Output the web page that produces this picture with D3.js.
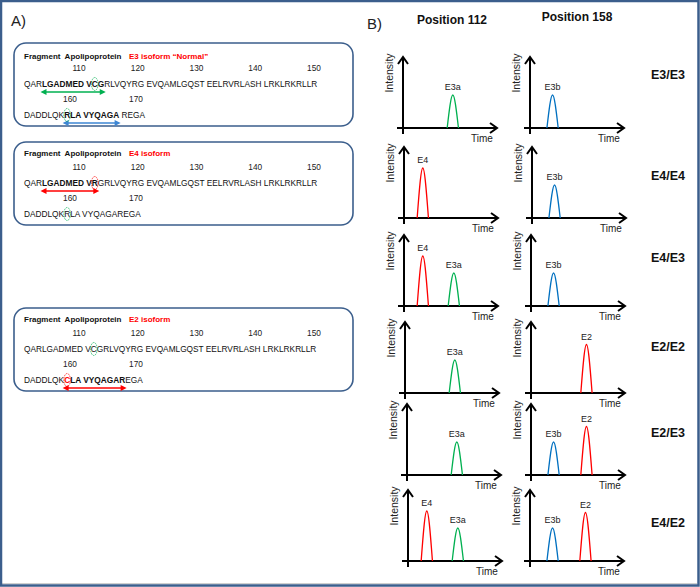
<!DOCTYPE html>
<html>
<head>
<meta charset="utf-8">
<script src="https://cdn.jsdelivr.net/npm/d3@7"></script>
<style>
  body { margin: 0; background: #fff; }
  svg { display: block; font-family: "Liberation Sans", Arial, sans-serif; }
</style>
</head>
<body>
<div id="chart"></div>
<script>
// ---- panel B data ----
const genotypes = ["E3/E3", "E4/E4", "E4/E3", "E2/E2", "E2/E3", "E4/E2"];
const columnTitles = ["Position 112", "Position 158"];
const peaksPos112 = [["E3a"], ["E4"], ["E4", "E3a"], ["E3a"], ["E3a"], ["E4", "E3a"]];
const peaksPos158 = [["E3b"], ["E3b"], ["E3b"], ["E2"], ["E3b", "E2"], ["E3b", "E2"]];
const peakNames = ["E4", "E3a", "E3b", "E2"];
const peakTimes = [20, 53, 24, 59];
const peakIntensities = [100, 66, 66, 97];
const peakColors = ["#ff0000", "#00b050", "#0070c0", "#ff0000"];

// ---- panel A data ----
const isoformNames = ["E3 isoform \u201cNormal\u201d", "E4 isoform", "E2 isoform"];
const residueTicks1 = [110, 120, 130, 140, 150];
const residueTicks2 = [160, 170];
// segment: [text, bold, textColor, ellipseColor, arrowColor]
const G = "#00b050", R = "#ff0000", B = "#3d86d3";
const seqLine1 = [
  [["QAR"], ["LGADMED V", 1, null, null, G], ["C", 1, null, G, G], ["G", 1, null, null, G], ["RLVQYRG EVQAMLGQST EELRVRLASH LRKLRKRLLR"]],
  [["QAR"], ["LGADMED V", 1, null, null, R], ["R", 1, null, R, R], ["GRLVQYRG EVQAMLGQST EELRVRLASH LRKLRKRLLR"]],
  [["QARLGADMED V"], ["C", 0, null, G], ["GRLVQYRG EVQAMLGQST EELRVRLASH LRKLRKRLLR"]]
];
const seqLine2 = [
  [["DADDLQK"], ["R", 1, null, G, B], ["LA VYQAGA", 1, null, null, B], [" REGA"]],
  [["DADDLQK"], ["R", 0, null, G], ["LA VYQAGAREGA"]],
  [["DADDLQK"], ["C", 1, R, R, R], ["LA VYQAGAR", 1, null, null, R], ["EGA"]]
];

const width = 700, height = 587;
const frameColor = "#3b5e8c";

const svg = d3.select("#chart").append("svg")
  .attr("width", width)
  .attr("height", height)
  .attr("viewBox", [0, 0, width, height]);

svg.append("rect").attr("width", width).attr("height", height).attr("fill", "#fff");

// outer frame
svg.append("line").attr("x1", 2).attr("x2", 697).attr("y1", 583.5).attr("y2", 583.5)
  .attr("stroke", "#cfcfcf").attr("stroke-width", 1);
svg.append("rect")
  .attr("x", 1).attr("y", 1).attr("width", 697.5).attr("height", 584.5)
  .attr("fill", "none").attr("stroke", frameColor).attr("stroke-width", 2.5);

// ================= Panel A =================
svg.append("text").attr("x", 11).attr("y", 26).attr("font-size", 15).attr("fill", "#222").text("A)");

const boxTops = [43, 142, 308];
const boxLeft = 14, boxRight = 353;
const seqX = 24;
const tickScale1 = d3.scaleLinear().domain([110, 150]).range([79, 314]);
const tickScale2 = d3.scaleLinear().domain([160, 170]).range([70, 136]);

function drawSequence(g, segments, baseline) {
  const text = g.append("text")
    .attr("x", seqX).attr("y", baseline)
    .attr("font-size", 8.3)
    .attr("fill", "#111")
    .style("white-space", "pre");
  let idx = 0;
  const marks = [];
  segments.forEach(s => {
    const [str, bold, color, ell, arr] = s;
    text.append("tspan")
      .attr("font-weight", bold ? "bold" : null)
      .attr("fill", color || null)
      .text(str);
    marks.push({ start: idx, end: idx + str.length - 1, ell, arr });
    idx += str.length;
  });
  const node = text.node();
  // arrow under the bold peptide
  const arrMarks = marks.filter(m => m.arr);
  if (arrMarks.length) {
    const color = arrMarks[0].arr;
    const x1 = node.getExtentOfChar(arrMarks[0].start).x - 1.5;
    const last = node.getExtentOfChar(arrMarks[arrMarks.length - 1].end);
    const x2 = last.x + last.width + 1.5;
    const y = baseline + 5;
    g.append("line").attr("x1", x1 + 4).attr("x2", x2 - 4).attr("y1", y).attr("y2", y)
      .attr("stroke", color).attr("stroke-width", 1.6);
    g.append("path").attr("d", `M${x1},${y}L${x1 + 6},${y - 3}L${x1 + 6},${y + 3}Z`).attr("fill", color);
    g.append("path").attr("d", `M${x2},${y}L${x2 - 6},${y - 3}L${x2 - 6},${y + 3}Z`).attr("fill", color);
  }
  // ellipse around the variable residue
  marks.filter(m => m.ell).forEach(m => {
    const e = node.getExtentOfChar(m.start);
    g.append("ellipse")
      .attr("cx", e.x + e.width / 2).attr("cy", baseline - 3)
      .attr("rx", 3.3).attr("ry", 6.5)
      .attr("fill", "none").attr("stroke", m.ell).attr("stroke-width", 0.7)
      .attr("stroke-dasharray", "1.6,0.8");
  });
}

isoformNames.forEach((name, i) => {
  const top = boxTops[i];
  const g = svg.append("g");
  g.append("rect")
    .attr("x", boxLeft).attr("y", top)
    .attr("width", boxRight - boxLeft).attr("height", 83)
    .attr("rx", 12).attr("ry", 12)
    .attr("fill", "#fff").attr("stroke", frameColor).attr("stroke-width", 1.6);

  const titleY = top + (i === 0 ? 16 : 13.5);
  g.append("text").attr("x", seqX).attr("y", titleY)
    .attr("font-size", 8).attr("font-weight", "bold").attr("fill", "#111")
    .style("white-space", "pre")
    .text("Fragment  Apolipoprotein");
  g.append("text").attr("x", 129).attr("y", titleY)
    .attr("font-size", 8).attr("font-weight", "bold").attr("fill", "#ff0000")
    .text(name);

  g.selectAll(".t1").data(residueTicks1).join("text")
    .attr("x", d => tickScale1(d)).attr("y", top + 28)
    .attr("text-anchor", "middle").attr("font-size", 8.3).attr("fill", "#222")
    .text(d => d);
  drawSequence(g, seqLine1[i], top + 44);

  g.selectAll(".t2").data(residueTicks2).join("text")
    .attr("x", d => tickScale2(d)).attr("y", top + 59)
    .attr("text-anchor", "middle").attr("font-size", 8.3).attr("fill", "#222")
    .text(d => d);
  drawSequence(g, seqLine2[i], top + 75);
});

// ================= Panel B =================
svg.append("text").attr("x", 367).attr("y", 29).attr("font-size", 15).attr("fill", "#222").text("B)");
svg.append("text").attr("x", 452).attr("y", 24).attr("text-anchor", "middle")
  .attr("font-size", 12).attr("font-weight", "bold").attr("fill", "#111").text(columnTitles[0]);
svg.append("text").attr("x", 577).attr("y", 21).attr("text-anchor", "middle")
  .attr("font-size", 12).attr("font-weight", "bold").attr("fill", "#111").text(columnTitles[1]);

const col1X = [403, 404, 404, 405, 407, 408];
const col2X = [530, 532, 531, 531, 531, 530];
const baseY = [128, 218, 306, 393, 475, 561];
const rowLabelY = [79, 180, 262, 351, 437, 527];

const peakLine = d3.line().curve(d3.curveNatural);

function drawChart(x0, base, peaks) {
  const g = svg.append("g");
  const x = d3.scaleLinear().domain([0, 100]).range([x0, x0 + 94]);
  const y = d3.scaleLinear().domain([0, 100]).range([base, base - 50]);
  const tipX = x(100), tipY = base - 71;

  g.append("line").attr("x1", x0 - 6).attr("x2", tipX).attr("y1", base).attr("y2", base)
    .attr("stroke", "#000").attr("stroke-width", 2);
  g.append("line").attr("x1", x0).attr("x2", x0).attr("y1", base + 6).attr("y2", tipY)
    .attr("stroke", "#000").attr("stroke-width", 2);
  g.append("path").attr("d", `M${tipX - 7},${base - 5}L${tipX},${base}L${tipX - 7},${base + 5}`)
    .attr("fill", "none").attr("stroke", "#000").attr("stroke-width", 2);
  g.append("path").attr("d", `M${x0 - 5},${tipY + 7}L${x0},${tipY}L${x0 + 5},${tipY + 7}`)
    .attr("fill", "none").attr("stroke", "#000").attr("stroke-width", 2);

  g.append("text")
    .attr("transform", `translate(${x0 - 10},${base - 55}) rotate(-90)`)
    .attr("text-anchor", "middle").attr("font-size", 10.5).attr("fill", "#222")
    .text("Intensity");
  g.append("text").attr("x", x0 + 79).attr("y", base + 14)
    .attr("text-anchor", "middle").attr("font-size", 10).attr("fill", "#222")
    .text("Time");

  peaks.forEach(name => {
    const k = peakNames.indexOf(name);
    const t = peakTimes[k], h = peakIntensities[k];
    const pts = [[t - 6, 0], [t, h], [t + 6, 0]].map(p => [x(p[0]), y(p[1])]);
    g.append("path").attr("d", peakLine(pts))
      .attr("fill", "none").attr("stroke", peakColors[k]).attr("stroke-width", 1.3);
    g.append("text").attr("x", x(t)).attr("y", y(h) - 5)
      .attr("text-anchor", "middle").attr("font-size", 9).attr("fill", "#222")
      .text(name);
  });
}

genotypes.forEach((gt, r) => {
  drawChart(col1X[r], baseY[r], peaksPos112[r]);
  drawChart(col2X[r], baseY[r], peaksPos158[r]);
  svg.append("text").attr("x", 668).attr("y", rowLabelY[r])
    .attr("text-anchor", "middle").attr("font-size", 12.5).attr("font-weight", "bold")
    .attr("fill", "#111").text(gt);
});
</script>
</body>
</html>
